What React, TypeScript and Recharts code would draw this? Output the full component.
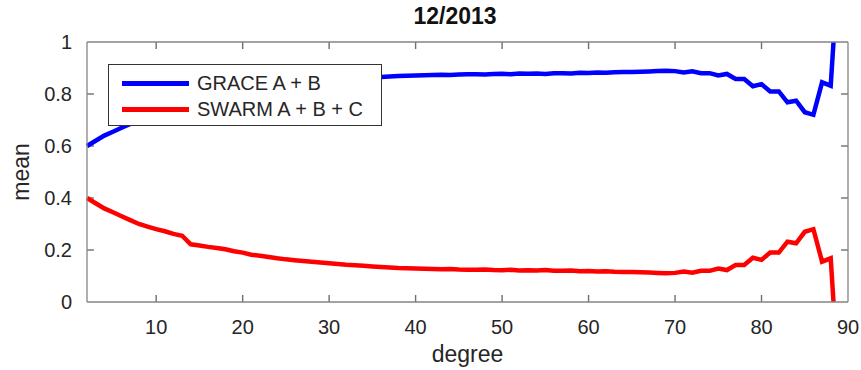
import { Line, LineChart, ReferenceLine, XAxis, YAxis } from 'recharts';

// spherical harmonic degree, one point per degree
const degrees = [
  2, 3, 4, 5, 6, 7, 8, 9, 10, 11, 12, 13, 14, 15, 16, 17, 18, 19, 20, 21,
  22, 23, 24, 25, 26, 27, 28, 29, 30, 31, 32, 33, 34, 35, 36, 37, 38, 39, 40, 41,
  42, 43, 44, 45, 46, 47, 48, 49, 50, 51, 52, 53, 54, 55, 56, 57, 58, 59, 60, 61,
  62, 63, 64, 65, 66, 67, 68, 69, 70, 71, 72, 73, 74, 75, 76, 77, 78, 79, 80, 81,
  82, 83, 84, 85, 86, 87, 88, 89,
];

const grace = [
  0.6, 0.62, 0.64, 0.655, 0.67, 0.685, 0.7, 0.71, 0.72, 0.728, 0.738, 0.745, 0.778, 0.783, 0.788, 0.792, 0.797, 0.805, 0.81, 0.818,
  0.822, 0.827, 0.832, 0.836, 0.839, 0.842, 0.845, 0.848, 0.851, 0.854, 0.857, 0.859, 0.861, 0.863, 0.865, 0.867, 0.869, 0.87, 0.871, 0.872,
  0.873, 0.874, 0.873, 0.875, 0.876, 0.876, 0.875, 0.877, 0.878, 0.876, 0.879, 0.878, 0.879, 0.877, 0.88, 0.88, 0.879, 0.882, 0.881, 0.883,
  0.882, 0.884, 0.885, 0.885, 0.886, 0.887, 0.888, 0.889, 0.888, 0.883, 0.887, 0.88, 0.88, 0.871, 0.877, 0.858, 0.858, 0.83, 0.838, 0.81,
  0.81, 0.768, 0.774, 0.73, 0.72, 0.845, 0.832, 1.35,
];

const swarm = [
  0.4, 0.38, 0.36, 0.345, 0.33, 0.315, 0.3, 0.29, 0.28, 0.272, 0.262, 0.255, 0.222, 0.217, 0.212, 0.208, 0.203, 0.195, 0.19, 0.182,
  0.178, 0.173, 0.168, 0.164, 0.161, 0.158, 0.155, 0.152, 0.149, 0.146, 0.143, 0.141, 0.139, 0.137, 0.135, 0.133, 0.131, 0.13, 0.129, 0.128,
  0.127, 0.126, 0.127, 0.125, 0.124, 0.124, 0.125, 0.123, 0.122, 0.124, 0.121, 0.122, 0.121, 0.123, 0.12, 0.12, 0.121, 0.118, 0.119, 0.117,
  0.118, 0.116, 0.115, 0.115, 0.114, 0.113, 0.112, 0.111, 0.112, 0.117, 0.113, 0.12, 0.12, 0.129, 0.123, 0.142, 0.142, 0.17, 0.162, 0.19,
  0.19, 0.232, 0.226, 0.27, 0.28, 0.155, 0.168, -0.35,
];

const xTicks = [10, 20, 30, 40, 50, 60, 70, 80, 90];
const yTicks = [0, 0.2, 0.4, 0.6, 0.8, 1];
const yTickLabels = ['0', '0.2', '0.4', '0.6', '0.8', '1'];

const title = '12/2013';
const seriesNames = ['GRACE A + B', 'SWARM A + B + C'];
const seriesColors = ['#0000ff', '#ff0000'];

const X_MIN = 2;
const X_MAX = 90;

const data = degrees.map((d, i) => ({ degree: d, grace: grace[i], swarm: swarm[i] }));

const FONT = '"Liberation Sans", Arial, Helvetica, sans-serif';
const AXIS = '#858585';
const TICK_COLOR = '#6f6f6f';
const TEXT = '#262626';
const axisLine = { stroke: AXIS, strokeWidth: 1.3 };
// inward tick length in data units (about 7px)
const TICK_DX = 0.8;
const TICK_DY = 0.027;

function BottomTick(props: any) {
  const { x, y, payload } = props;
  return (
    <text x={x} y={y + 32} textAnchor="middle" fontSize={20} fill={TEXT} fontFamily={FONT}>
      {payload.value}
    </text>
  );
}

function LeftTick(props: any) {
  const { x, y, payload } = props;
  const idx = yTicks.indexOf(payload.value);
  return (
    <text x={x - 15} y={y + 7} textAnchor="end" fontSize={20} fill={TEXT} fontFamily={FONT}>
      {idx >= 0 ? yTickLabels[idx] : payload.value}
    </text>
  );
}

function YLabel(props: any) {
  const { viewBox } = props;
  const cy = viewBox.y + viewBox.height / 2;
  const cx = 21;
  return (
    <text
      x={cx}
      y={cy}
      transform={`rotate(-90 ${cx} ${cy})`}
      textAnchor="middle"
      dominantBaseline="central"
      fontSize={23}
      fill={TEXT}
      fontFamily={FONT}
    >
      mean
    </text>
  );
}

function LegendBox() {
  return (
    <div
      style={{
        position: 'absolute',
        left: 108,
        top: 64,
        width: 272,
        height: 60,
        border: '1px solid #333',
        background: '#fff',
        fontFamily: FONT,
        fontSize: 20,
        color: TEXT,
      }}
    >
      {seriesNames.map((name, i) => (
        <div
          key={name}
          style={{ position: 'absolute', left: 13, top: 6 + i * 26, height: 24, display: 'flex', alignItems: 'center' }}
        >
          <div style={{ width: 67, height: 5, background: seriesColors[i] }} />
          <span style={{ marginLeft: 8, lineHeight: '24px' }}>{name}</span>
        </div>
      ))}
    </div>
  );
}

export default function App() {
  const innerX = xTicks.filter((t) => t > X_MIN && t < X_MAX);
  const innerY = yTicks.filter((t) => t > 0 && t < 1);
  return (
    <div style={{ position: 'absolute', left: 0, top: 0, width: 861, height: 370, background: '#fff' }}>
      <div
        style={{
          position: 'absolute',
          left: 355,
          width: 200,
          top: 3,
          textAlign: 'center',
          fontFamily: FONT,
          fontWeight: 'bold',
          fontSize: 23,
          color: '#111',
        }}
      >
        {title}
      </div>
      <LineChart width={861} height={370} data={data} margin={{ top: 32, right: 8, bottom: 28, left: 27 }}>
        <XAxis
          xAxisId="top"
          orientation="top"
          dataKey="degree"
          type="number"
          domain={[X_MIN, X_MAX]}
          ticks={xTicks}
          height={10}
          tickLine={false}
          tick={false}
          axisLine={axisLine}
        />
        <XAxis
          dataKey="degree"
          type="number"
          domain={[X_MIN, X_MAX]}
          ticks={xTicks}
          interval={0}
          height={40}
          tickSize={0}
          tickMargin={0}
          tickLine={false}
          tick={<BottomTick />}
          axisLine={axisLine}
          label={{ value: 'degree', position: 'bottom', offset: 4, fontSize: 23, fill: TEXT, fontFamily: FONT }}
        />
        <YAxis
          type="number"
          domain={[0, 1]}
          allowDataOverflow
          ticks={yTicks}
          interval={0}
          width={60}
          tickSize={0}
          tickMargin={0}
          tickLine={false}
          tick={<LeftTick />}
          axisLine={axisLine}
          label={{ content: <YLabel /> }}
        />
        <YAxis
          yAxisId="right"
          orientation="right"
          type="number"
          domain={[0, 1]}
          ticks={yTicks}
          width={5}
          tickLine={false}
          tick={false}
          axisLine={axisLine}
        />
        {innerX.map((t) => (
          <ReferenceLine
            key={`xb${t}`}
            segment={[{ x: t, y: 0 }, { x: t, y: TICK_DY }]}
            stroke={TICK_COLOR}
            strokeWidth={1.4}
          />
        ))}
        {innerX.map((t) => (
          <ReferenceLine
            key={`xt${t}`}
            segment={[{ x: t, y: 1 }, { x: t, y: 1 - TICK_DY }]}
            stroke={TICK_COLOR}
            strokeWidth={1.4}
          />
        ))}
        {innerY.map((t) => (
          <ReferenceLine
            key={`yl${t}`}
            segment={[{ x: X_MIN, y: t }, { x: X_MIN + TICK_DX, y: t }]}
            stroke={TICK_COLOR}
            strokeWidth={1.4}
          />
        ))}
        {innerY.map((t) => (
          <ReferenceLine
            key={`yr${t}`}
            segment={[{ x: X_MAX - TICK_DX, y: t }, { x: X_MAX, y: t }]}
            stroke={TICK_COLOR}
            strokeWidth={1.4}
          />
        ))}
        <Line
          dataKey="grace"
          stroke={seriesColors[0]}
          strokeWidth={4.5}
          dot={false}
          type="linear"
          isAnimationActive={false}
        />
        <Line
          dataKey="swarm"
          stroke={seriesColors[1]}
          strokeWidth={4.5}
          dot={false}
          type="linear"
          isAnimationActive={false}
        />
      </LineChart>
      <LegendBox />
    </div>
  );
}
